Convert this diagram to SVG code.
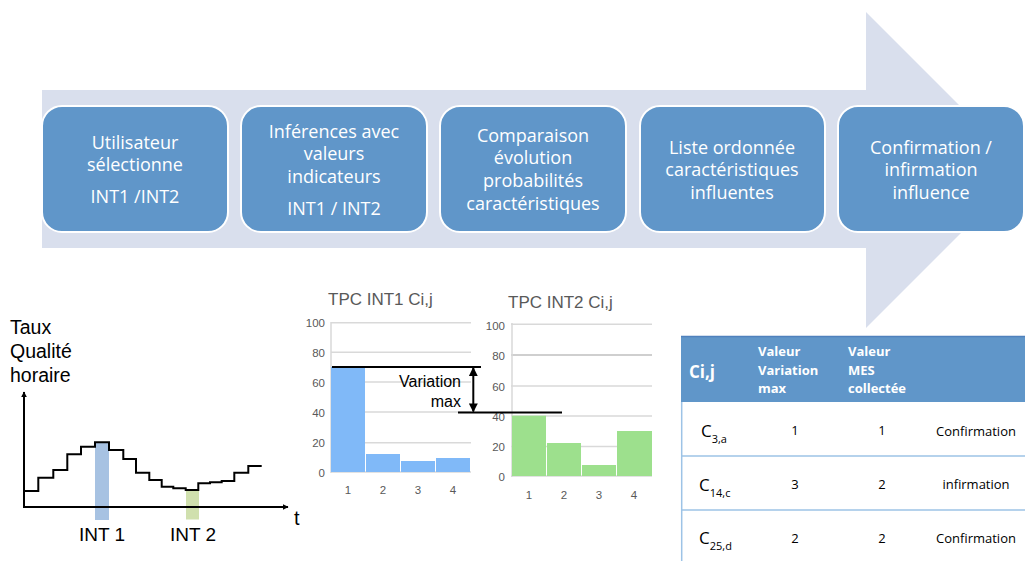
<svg xmlns="http://www.w3.org/2000/svg" width="1025" height="561" viewBox="0 0 1025 561">
<defs>
<style>
.box{fill:#6096C9;stroke:#ffffff;stroke-width:2}
.bt{font-family:"Open Sans","Liberation Sans",sans-serif;font-size:18px;fill:#ffffff;text-anchor:middle}
.lbl{font-family:"Liberation Sans",Arial,sans-serif;fill:#000000}
.ttl{font-family:"Liberation Sans",Arial,sans-serif;font-size:17px;fill:#595959}
.ax{font-family:"Liberation Sans",Arial,sans-serif;font-size:11.5px;fill:#595959}
.axe{text-anchor:end}
.axm{text-anchor:middle}
.grid{stroke:#D9D9D9;stroke-width:1.5}
.blk{stroke:#000000;stroke-width:2;fill:none}
.th{font-family:"Open Sans","Liberation Sans",sans-serif;font-weight:bold;fill:#ffffff}
.td{font-family:"Open Sans","Liberation Sans",sans-serif;font-size:13px;fill:#000000}
.cij{font-family:"Open Sans","Liberation Sans",sans-serif;font-size:17px;fill:#000000}
.sub{font-size:11px}
.row{stroke:#9DC3E6;stroke-width:1.5}
</style>
<marker id="ah" viewBox="0 0 10 10" refX="9" refY="5" markerWidth="6" markerHeight="6" orient="auto-start-reverse" markerUnits="userSpaceOnUse">
<path d="M0,0 L10,5 L0,10 z" fill="#000000"/>
</marker>
<marker id="ah2" viewBox="0 0 10 10" refX="9" refY="5" markerWidth="9" markerHeight="9" orient="auto-start-reverse" markerUnits="userSpaceOnUse">
<path d="M0,0 L10,5 L0,10 z" fill="#000000"/>
</marker>
</defs>
<rect width="1025" height="561" fill="#ffffff"/>

<g id="big-arrow">
<polygon points="42,90 866,90 866,12 1024,170 866,328 866,248 42,248" fill="#D9DFED"/>
</g>

<g id="step1">
<rect class="box" x="42" y="106" width="186" height="126" rx="20"/>
<text class="bt"><tspan x="135" y="149">Utilisateur</tspan><tspan x="135" y="171">sélectionne</tspan><tspan x="135" y="203">INT1 /INT2</tspan></text>
</g>
<g id="step2">
<rect class="box" x="241" y="106" width="186" height="126" rx="20"/>
<text class="bt"><tspan x="334" y="138">Inférences avec</tspan><tspan x="334" y="160">valeurs</tspan><tspan x="334" y="183">indicateurs</tspan><tspan x="334" y="215">INT1 / INT2</tspan></text>
</g>
<g id="step3">
<rect class="box" x="440" y="106" width="186" height="126" rx="20"/>
<text class="bt"><tspan x="533" y="142">Comparaison</tspan><tspan x="533" y="164">évolution</tspan><tspan x="533" y="187">probabilités</tspan><tspan x="533" y="210">caractéristiques</tspan></text>
</g>
<g id="step4">
<rect class="box" x="640" y="106" width="185" height="126" rx="20"/>
<text class="bt"><tspan x="732" y="154">Liste ordonnée</tspan><tspan x="732" y="176">caractéristiques</tspan><tspan x="732" y="199">influentes</tspan></text>
</g>
<g id="step5">
<rect class="box" x="838" y="106" width="186" height="126" rx="20"/>
<text class="bt"><tspan x="931" y="154">Confirmation /</tspan><tspan x="931" y="176">infirmation</tspan><tspan x="931" y="199">influence</tspan></text>
</g>

<g id="time-chart">
<text class="lbl" font-size="19.5"><tspan x="10" y="334">Taux</tspan><tspan x="10" y="358">Qualité</tspan><tspan x="10" y="382">horaire</tspan></text>
<rect x="95" y="442" width="14" height="78" fill="#A7C2E2"/>
<rect x="186" y="490" width="13" height="29.5" fill="#D0E0AE"/>
<line class="blk" x1="24" y1="507" x2="24" y2="392" marker-end="url(#ah)"/>
<line class="blk" x1="23" y1="507" x2="288" y2="507" marker-end="url(#ah)"/>
<polyline class="blk" stroke-linejoin="miter" points="24,491 38.3,491 38.3,477.7 53.3,477.7 53.3,470 67.3,470 67.3,454.3 81,454.3 81,446.7 95,446.7 95,442.3 109,442.3 109,450 123.3,450 123.3,459 136,459 136,472.7 149.3,472.7 149.3,480 161.7,480 161.7,486.7 173.3,486.7 173.3,488.3 185.7,488.3 185.7,490 198.3,490 198.3,483.3 210,483.3 210,482.3 221.7,482.3 221.7,481 234.3,481 234.3,472.7 248.3,472.7 248.3,466 261.7,466"/>
<text class="lbl" font-size="20" x="294" y="525">t</text>
<text class="lbl" font-size="19" x="102" y="541" text-anchor="middle">INT 1</text>
<text class="lbl" font-size="19" x="193" y="541" text-anchor="middle">INT 2</text>
</g>

<g id="chart-int1">
<text class="ttl" x="328" y="305">TPC INT1 Ci,j</text>
<line class="grid" x1="331" y1="322.7" x2="471" y2="322.7"/>
<line class="grid" x1="331" y1="352.3" x2="471" y2="352.3"/>
<line class="grid" x1="331" y1="382" x2="471" y2="382"/>
<line class="grid" x1="331" y1="412" x2="471" y2="412"/>
<line class="grid" x1="331" y1="442.7" x2="471" y2="442.7"/>
<line class="grid" x1="331" y1="472" x2="471" y2="472"/>
<line class="grid" x1="331" y1="322" x2="331" y2="473"/>
<rect x="331" y="367" width="34" height="105" fill="#80B9F8"/>
<rect x="366" y="454" width="34" height="18" fill="#80B9F8"/>
<rect x="401" y="461" width="34" height="11" fill="#80B9F8"/>
<rect x="436" y="458" width="34" height="14" fill="#80B9F8"/>
<g class="ax axe">
<text x="325" y="327">100</text><text x="325" y="357">80</text><text x="325" y="387">60</text><text x="325" y="417">40</text><text x="325" y="447">20</text><text x="325" y="477">0</text>
</g>
<g class="ax axm">
<text x="348" y="494">1</text><text x="383" y="494">2</text><text x="418" y="494">3</text><text x="453" y="494">4</text>
</g>
</g>

<g id="chart-int2">
<text class="ttl" x="508" y="308">TPC INT2 Ci,j</text>
<line class="grid" x1="511" y1="324.3" x2="652" y2="324.3"/>
<line x1="511" y1="355" x2="652" y2="355" stroke="#BFBFBF" stroke-width="1.5"/>
<line class="grid" x1="511" y1="386" x2="652" y2="386"/>
<line class="grid" x1="511" y1="416" x2="652" y2="416"/>
<line class="grid" x1="511" y1="446.5" x2="652" y2="446.5"/>
<line class="grid" x1="511" y1="476" x2="652" y2="476"/>
<line class="grid" x1="512" y1="323" x2="512" y2="477"/>
<rect x="512" y="415.7" width="34" height="60.3" fill="#9DE08D"/>
<rect x="547" y="443" width="34" height="33" fill="#9DE08D"/>
<rect x="582" y="465" width="34" height="11" fill="#9DE08D"/>
<rect x="617" y="431" width="35" height="45" fill="#9DE08D"/>
<g class="ax axe">
<text x="505" y="330">100</text><text x="505" y="360">80</text><text x="505" y="391">60</text><text x="505" y="421">40</text><text x="505" y="451">20</text><text x="505" y="481">0</text>
</g>
<g class="ax axm">
<text x="529" y="499">1</text><text x="564" y="499">2</text><text x="599" y="499">3</text><text x="634" y="499">4</text>
</g>
</g>

<g id="variation-max">
<line class="blk" x1="332" y1="367" x2="481" y2="367"/>
<line class="blk" x1="458" y1="412.5" x2="562" y2="412.5"/>
<line class="blk" x1="473.3" y1="368" x2="473.3" y2="411.5" marker-start="url(#ah2)" marker-end="url(#ah2)"/>
<text class="lbl" font-size="16" text-anchor="end"><tspan x="461" y="387">Variation</tspan><tspan x="461" y="407">max</tspan></text>
</g>

<g id="table">
<rect x="681" y="336" width="344" height="66" fill="#6096C9"/>
<line x1="681" y1="336.5" x2="1025" y2="336.5" stroke="#4F81BD" stroke-width="1.5"/>
<line class="row" x1="681.7" y1="402" x2="681.7" y2="561"/>
<line class="row" x1="681" y1="456" x2="1025" y2="456"/>
<line class="row" x1="681" y1="510" x2="1025" y2="510"/>
<text class="th" font-size="17" x="689" y="378">Ci,j</text>
<text class="th" font-size="13"><tspan x="758" y="356">Valeur</tspan><tspan x="758" y="375">Variation</tspan><tspan x="758" y="393">max</tspan></text>
<text class="th" font-size="13"><tspan x="848" y="356">Valeur</tspan><tspan x="848" y="375">MES</tspan><tspan x="848" y="393">collectée</tspan></text>
<text class="cij" x="701" y="437">C<tspan class="sub" dy="6">3,a</tspan></text>
<text class="cij" x="699" y="491">C<tspan class="sub" dy="6">14,c</tspan></text>
<text class="cij" x="699" y="544">C<tspan class="sub" dy="6">25,d</tspan></text>
<g class="td" text-anchor="middle">
<text x="795" y="435">1</text><text x="882" y="435">1</text><text x="976" y="436">Confirmation</text>
<text x="795" y="489">3</text><text x="882" y="489">2</text><text x="976" y="489">infirmation</text>
<text x="795" y="543">2</text><text x="882" y="543">2</text><text x="976" y="543">Confirmation</text>
</g>
</g>
</svg>
